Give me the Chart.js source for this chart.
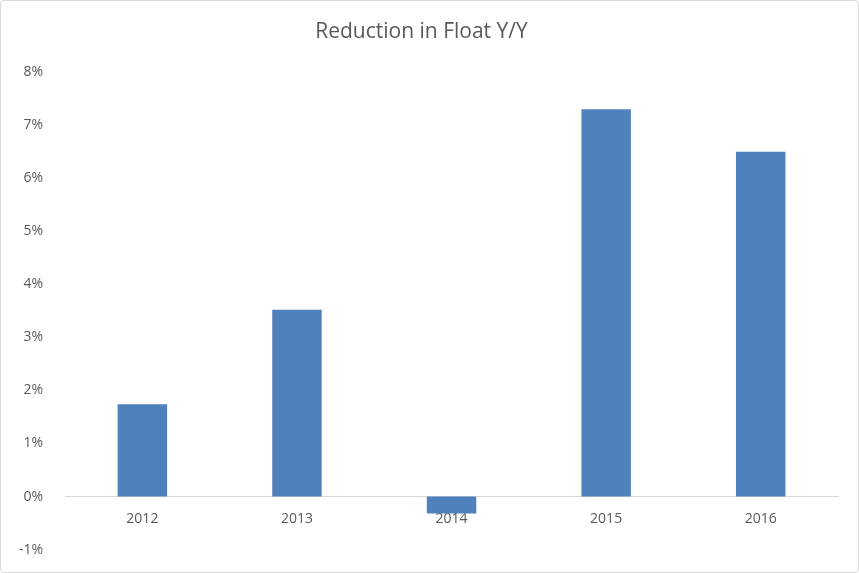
<!DOCTYPE html>
<html><head><meta charset="utf-8">
<script src="https://cdn.jsdelivr.net/npm/chart.js"></script>
<style>
html,body{margin:0;padding:0;background:#fff;}
#wrap{position:absolute;left:0;top:0;width:857px;height:571px;border:1px solid #d9d9d9;border-radius:4px;}
</style></head><body>
<div id="wrap"><canvas id="c" width="857" height="571"></canvas></div>
<script>
const categories = ['2012','2013','2014','2015','2016'];
const values = [1.74, 3.52, -0.32, 7.30, 6.50];
const yTicks = [-1,0,1,2,3,4,5,6,7,8];

new Chart(document.getElementById('c'), {
  type: 'bar',
  data: { labels: categories, datasets: [{ data: values, backgroundColor: '#4f81bd', categoryPercentage: 1, barPercentage: 0.32 }] },
  options: {
    responsive: false, animation: false,
    layout: { padding: { left: 4, right: 20, top: 0, bottom: 12 } },
    plugins: {
      legend: { display: false },
      tooltip: { enabled: false },
      title: { display: true, text: 'Reduction in Float Y/Y', color: '#595959',
        font: { family: '"Open Sans", sans-serif', size: 21, weight: 'normal' }, padding: { top: 18, bottom: 28 } }
    },
    scales: {
      x: { position: { y: 0 }, grid: { display: false }, border: { color: '#d9d9d9' },
        ticks: { color: '#595959', font: { family: '"Open Sans", sans-serif', size: 14 }, padding: 6 } },
      y: { min: -1, max: 8, afterBuildTicks: a => { a.ticks = yTicks.map(v => ({ value: v })); },
        grid: { display: false }, border: { display: false },
        ticks: { color: '#595959', font: { family: '"Open Sans", sans-serif', size: 14 }, padding: 14,
          callback: v => v + '%' } }
    }
  }
});
</script></body></html>
